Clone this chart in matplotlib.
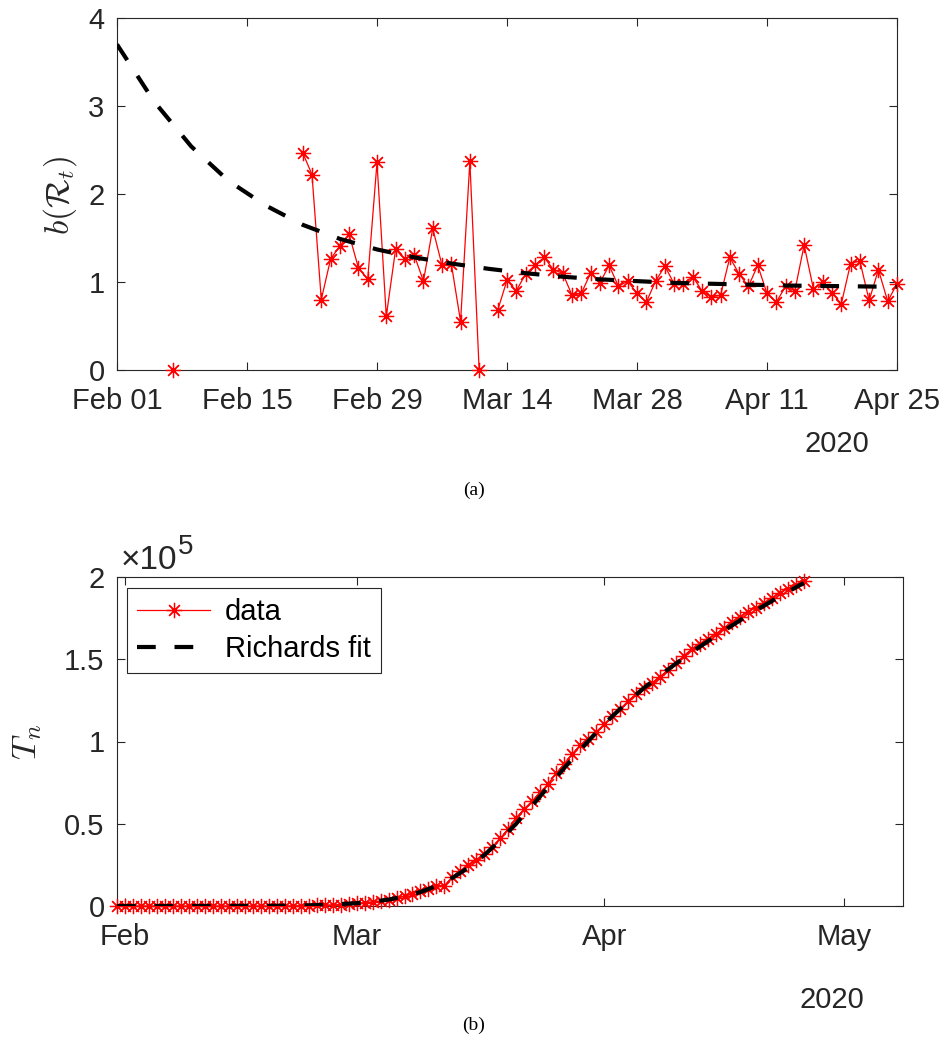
import numpy as np
import pandas as pd
import matplotlib
matplotlib.use('Agg')
import matplotlib.pyplot as plt
import matplotlib.dates as mdates

plt.rcParams['font.family'] = ['Liberation Sans', 'DejaVu Sans']
plt.rcParams['mathtext.fontset'] = 'cm'

AX_COL = '#262626'

# ---- (a) b(R_t), one value per day starting Feb 01 ----
b_dates = pd.date_range('2020-02-01', '2020-04-25', freq='D')
b_vals = ([np.nan] * 6 + [0.0] + [np.nan] * 13 +
          [2.47, 2.22, 0.80, 1.26, 1.41, 1.54, 1.16, 1.03, 2.36, 0.61,
           1.37, 1.26, 1.31, 1.01, 1.61, 1.19, 1.21, 0.55, 2.37, 0.0] +
          [np.nan] +
          [0.68, 1.02, 0.90, 1.09, 1.19, 1.28, 1.14, 1.10, 0.85, 0.87,
           1.10, 0.99, 1.19, 0.95, 1.01, 0.87, 0.77, 1.01, 1.18, 0.98,
           0.98, 1.06, 0.90, 0.83, 0.85, 1.28, 1.09, 0.95, 1.19, 0.87,
           0.77, 0.95, 0.90, 1.42, 0.92, 1.00, 0.88, 0.75, 1.21, 1.24,
           0.79, 1.14, 0.78, 0.98])

# fitted curve, read every 4 days
bfit_dates = pd.date_range('2020-02-01', '2020-04-25', freq='4D')
bfit_vals = [3.70, 3.05, 2.54, 2.15, 1.87, 1.65, 1.49, 1.37, 1.28, 1.21, 1.15,
             1.10, 1.06, 1.03, 1.01, 0.99, 0.98, 0.97, 0.96, 0.955, 0.95, 0.945]

b_ticks = pd.date_range('2020-02-01', '2020-04-25', freq='14D')

# ---- (b) cumulative cases T_n, daily from Jan 31 ----
T_dates = pd.date_range('2020-01-31', '2020-04-26', freq='D')
T_vals = ([2] * 7 + [3] * 14 +
          [20, 79, 155, 229, 322, 453, 655, 888, 1128,
           1694, 2036, 2502, 3089, 3858, 4636, 5883, 7375, 9172, 10149,
           12462, 12462, 17660, 21157, 24747, 27980, 31506, 35713, 41035, 47021,
           53578, 59138, 63927, 69176, 74386, 80589, 86498, 92472, 97689, 101739,
           105792,
           110574, 115242, 119827, 124632, 128948, 132547, 135586, 139422, 143626, 147577,
           152271, 156363, 159516, 162488, 165155, 168941, 172434, 175925, 178972, 181228,
           183957, 187327, 189973, 192994, 195351, 197675])

fit_dates = pd.to_datetime(['2020-01-31', '2020-02-10', '2020-02-20', '2020-02-25',
                            '2020-03-01', '2020-03-03', '2020-03-05', '2020-03-07',
                            '2020-03-09', '2020-03-11', '2020-03-13', '2020-03-15',
                            '2020-03-17', '2020-03-19', '2020-03-21', '2020-03-23',
                            '2020-03-25', '2020-03-27', '2020-03-29', '2020-03-31',
                            '2020-04-02', '2020-04-04', '2020-04-06', '2020-04-08',
                            '2020-04-10', '2020-04-12', '2020-04-14', '2020-04-16',
                            '2020-04-18', '2020-04-20', '2020-04-22', '2020-04-24',
                            '2020-04-26'])
fit_vals = [0, 20, 150, 500, 1700, 2600, 3900, 5800, 8500, 12200, 17100, 23300,
            31000, 40000, 50200, 61100, 72500, 83900, 94900, 105400, 115300,
            124300, 132600, 140200, 147400, 154400, 161000, 167400, 173600,
            179600, 185400, 191000, 196400]

T_ticks = pd.to_datetime(['2020-02-01', '2020-03-01', '2020-04-01', '2020-05-01'])


def matlab_axes(ax, xpad):
    for s in ax.spines.values():
        s.set_color(AX_COL)
        s.set_linewidth(0.8)
    ax.tick_params(axis='both', direction='in', length=5.5, width=0.8,
                   colors=AX_COL, labelsize=21, top=True, right=True)
    ax.tick_params(axis='x', pad=xpad)
    ax.tick_params(axis='y', pad=9)


fig = plt.figure(figsize=(9.48, 10.44), dpi=100)

# ---------- top ----------
ax1 = fig.add_axes([117 / 948, 1 - 370 / 1044, 780 / 948, 352 / 1044])
ax1.plot(b_dates, b_vals, color='red', lw=0.9, marker=(8, 2, 0), ms=11,
         mew=0.9, clip_on=False, zorder=3)
ax1.plot(bfit_dates, bfit_vals, color='black', lw=3.0, dashes=(4.5, 4.5), zorder=4)
ax1.set_xlim(pd.Timestamp('2020-02-01'), pd.Timestamp('2020-04-25'))
ax1.set_ylim(0, 4)
ax1.set_yticks([0, 1, 2, 3, 4])
ax1.set_xticks(b_ticks)
ax1.xaxis.set_major_formatter(mdates.DateFormatter('%b %d'))
matlab_axes(ax1, 12)
fig.text(837 / 948, 1 - 444 / 1044, '2020', fontsize=21, color=AX_COL,
         ha='center', va='center')
fig.text(60 / 948, 1 - 195 / 1044, r'$b(\mathcal{R}_t)$', fontsize=24,
         rotation=90, ha='center', va='center', color=AX_COL)
fig.text(0.5, 1 - 490 / 1044, '(a)', fontsize=14, family='Liberation Serif',
         ha='center', va='center')

# ---------- bottom ----------
ax2 = fig.add_axes([117 / 948, 1 - 906 / 1044, 786 / 948, 329 / 1044])
ax2.plot(T_dates, np.array(T_vals) / 1e5, color='red', lw=0.9, marker=(8, 2, 0),
         ms=11, mew=0.9, clip_on=False, zorder=3, label='data')
ax2.plot(fit_dates, np.array(fit_vals) / 1e5, color='black', lw=3.0,
         dashes=(4.5, 4.5), zorder=4, label='Richards fit')
ax2.set_xlim(pd.Timestamp('2020-01-31'), pd.Timestamp('2020-05-08 10:00'))
ax2.set_ylim(0, 2)
ax2.set_yticks([0, 0.5, 1, 1.5, 2])
ax2.set_yticklabels(['0', '0.5', '1', '1.5', '2'])
ax2.set_xticks(T_ticks)
ax2.xaxis.set_major_formatter(mdates.DateFormatter('%b'))
matlab_axes(ax2, 12)
leg = ax2.legend(loc='upper left', fontsize=21, frameon=True, fancybox=False,
                 framealpha=1, edgecolor=AX_COL, borderpad=0.35, handlelength=2.5,
                 handletextpad=0.5, labelspacing=0.3, borderaxespad=0,
                 bbox_to_anchor=(10 / 786, (906 - 588) / 329))
leg.get_frame().set_linewidth(0.8)
fig.text(121 / 948, 1 - 569 / 1044, '×10', fontsize=24, color=AX_COL,
         ha='left', va='baseline')
fig.text(178 / 948, 1 - 554 / 1044, '5', fontsize=20, color=AX_COL,
         ha='left', va='baseline')
fig.text(832 / 948, 1 - 1000 / 1044, '2020', fontsize=21, color=AX_COL,
         ha='center', va='center')
fig.text(27 / 948, 1 - 742 / 1044, r'$T_n$', fontsize=25, rotation=90,
         ha='center', va='center', color=AX_COL)
fig.text(0.5, 1 - 1025 / 1044, '(b)', fontsize=14, family='Liberation Serif',
         ha='center', va='center')

fig.savefig('out.png', dpi=100)
